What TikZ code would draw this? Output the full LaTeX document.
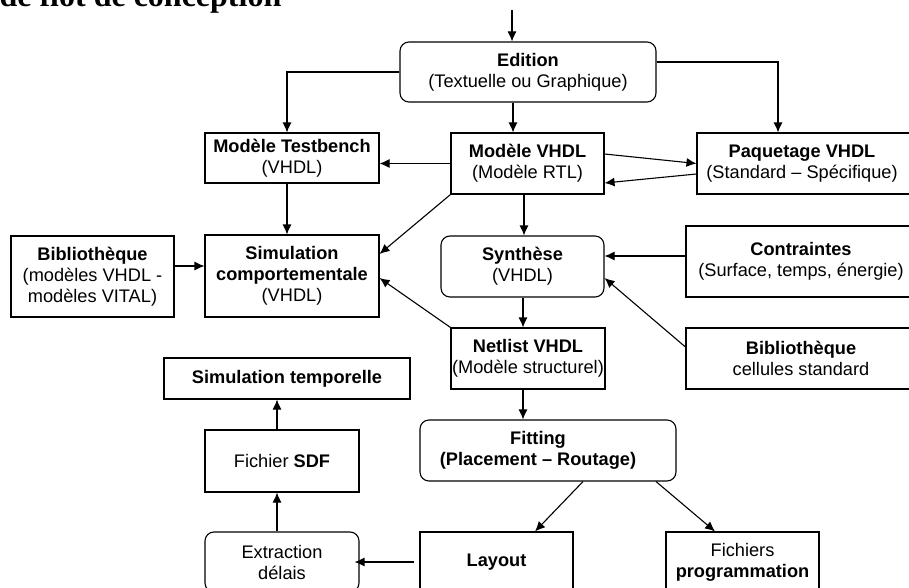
\documentclass[tikz,border=0pt]{standalone}
\usepackage{fontspec}
\setmainfont{Liberation Sans}
\newfontfamily\titrefont{Liberation Serif}
\usetikzlibrary{arrows.meta}
\tikzset{
  bloc/.style = {align=center, inner sep=0pt, text centered,
    font=\fontsize{18.2}{21}\selectfont, draw=black, line width=1.1pt},
  bloc_c/.style = {bloc, rectangle},% bloc carre
  bloc_r/.style = {bloc, rectangle, rounded corners=9pt},% bloc arrondi
  texte/.style = {align=center, inner sep=0pt,
    font=\fontsize{18.2}{21}\selectfont}% texte seul, blocs coupes a droite
}
\begin{document}
\begin{tikzpicture}[x=1pt,y=-1pt,->,>={Latex[length=10pt,width=9pt]},line width=1.1pt]
	\useasboundingbox (0,0) rectangle (909,588);
	\clip (0,0) rectangle (909,588);
	\node [anchor=base west, inner sep=0pt, font=\titrefont\bfseries\fontsize{32}{36}\selectfont] (titre) at (-1,7) {de flot de conception};

	\node [bloc_r, minimum width=256pt, minimum height=60pt] (n1) at (528,72) {\textbf{Edition}\\(Textuelle ou Graphique)};
	\node [bloc_c, minimum width=174pt, minimum height=50pt] (n2) at (292,158) {\textbf{Modèle Testbench}\\(VHDL)};
	\node [bloc_c, minimum width=153pt, minimum height=61pt] (n3) at (527.5,163.5) {\textbf{Modèle VHDL}\\(Modèle RTL)};
	\node [bloc_c, minimum width=233pt, minimum height=61pt] (n4) at (813.5,163.5) {};
	\node [texte] (t4) at (802,163.5) {\textbf{Paquetage VHDL}\\(Standard -- Spécifique)};
	\node [bloc_c, minimum width=163pt, minimum height=81pt] (n5) at (92.5,276.5) {\textbf{Bibliothèque}\\(modèles VHDL -\\modèles VITAL)};
	\node [bloc_c, minimum width=174pt, minimum height=82pt] (n6) at (292,276) {\textbf{Simulation}\\\textbf{comportementale}\\(VHDL)};
	\node [bloc_r, minimum width=163pt, minimum height=61pt] (n7) at (522.5,266.5) {\textbf{Synthèse}\\(VHDL)};
	\node [bloc_c, minimum width=244pt, minimum height=71pt] (n8) at (808,261.5) {};
	\node [texte] (t8) at (801,261.5) {\textbf{Contraintes}\\(Surface, temps, énergie)};
	\node [bloc_c, minimum width=154pt, minimum height=61pt] (n9) at (528,358.5) {\textbf{Netlist VHDL}\\(Modèle structurel)};
	\node [bloc_c, minimum width=244pt, minimum height=61pt] (n10) at (808,358.5) {};
	\node [texte] (t10) at (801,358.5) {\textbf{Bibliothèque}\\cellules standard};
	\node [bloc_c, minimum width=246pt, minimum height=41pt] (n11) at (287,378.5) {\textbf{Simulation temporelle}};
	\node [bloc_r, minimum width=256pt, minimum height=61pt] (n12) at (548,450.5) {};
	\node [texte] (t12) at (538,450.5) {\textbf{Fitting}\\\textbf{(Placement -- Routage)}};
	\node [bloc_c, minimum width=154pt, minimum height=62pt] (n13) at (282,461) {Fichier \textbf{SDF}};
	\node [bloc_r, minimum width=154pt, minimum height=60pt] (n14) at (282,562) {Extraction\\délais};
	\node [bloc_c, minimum width=153pt, minimum height=60pt] (n15) at (496.5,562) {\textbf{Layout}};
	\node [bloc_c, minimum width=153pt, minimum height=60pt] (n16) at (742.5,562) {Fichiers\\\textbf{programmation}};

	% entree et sorties de l'edition
	\coordinate (c0) at (512,10);
	\draw (c0) -- (c0 |- n1.north);
	\draw (n1.west) -| ([xshift=-5pt]n2.north);
	\draw ([yshift=10pt]n1.east) -| ([xshift=-35.5pt]n4.north);
	\draw ([xshift=-15pt]n1.south) -- ([xshift=-14.5pt]n3.north);

	% modele VHDL
	\draw (n3.west) -- (n3.west -| n2.east);
	\draw ([yshift=9.5pt]n3.east) -- (n4.west);
	\draw ([yshift=-10.5pt]n4.west) -- ([yshift=-19.5pt]n3.east);
	\draw (n3.south west) -- ([yshift=22pt]n6.east);
	\draw ([xshift=-3.5pt]n3.south) -- ([xshift=1.5pt]n7.north);

	% simulation
	\draw ([xshift=-5pt]n2.south) -- ([xshift=-5pt]n6.north);
	\draw ([yshift=10.5pt]n5.east) -- ([yshift=10pt]n6.west);
	\draw (n9.north west) -- ([yshift=-2pt]n6.east);

	% synthese
	\draw ([yshift=5.5pt]n8.west) -- ([yshift=10.5pt]n7.east);
	\draw ([yshift=11.5pt]n10.west) -- ([yshift=-11.5pt]n7.east);
	\draw ([xshift=0.5pt]n7.south) -- ([xshift=-5pt]n9.north);
	\draw ([xshift=-5pt]n9.south) -- ([xshift=-25pt]n12.north);

	% fitting et suite
	\draw ([xshift=35pt]n12.south) -- ([xshift=38.5pt]n15.north);
	\draw ([xshift=108pt]n12.south) -- ([xshift=-27.5pt]n16.north);
	\foreach \from/\to in {n15.west/n14.east, n14.north/n13.south}
	  \draw ([xshift=-5pt]\from) -- ([xshift=-5pt]\to);
	\draw ([xshift=-5pt]n13.north) -- ([xshift=-10pt]n11.south);
\end{tikzpicture}
\end{document}
